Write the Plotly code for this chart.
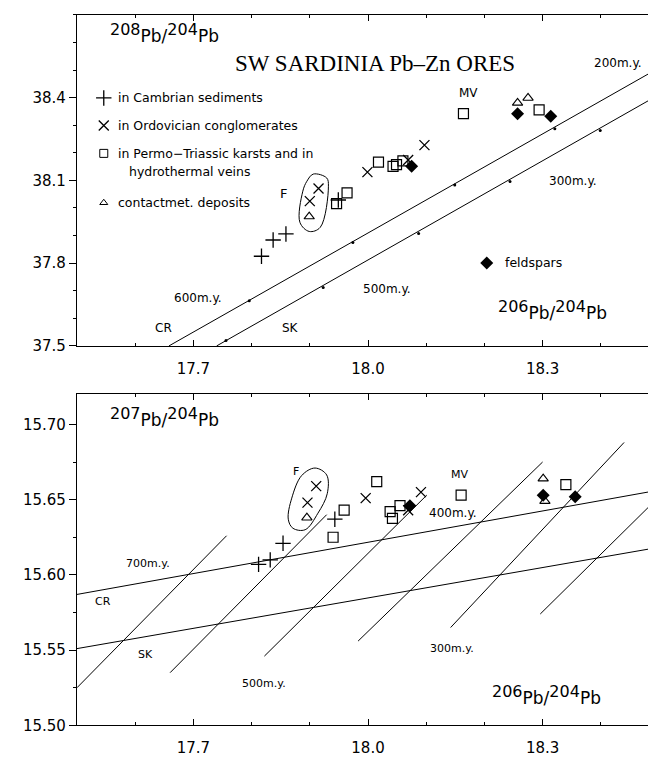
import plotly.graph_objects as go

# ---------------- data ----------------
# upper panel: 208Pb/204Pb vs 206Pb/204Pb
cam_x_top = [17.817, 17.837, 17.859, 17.949]
cam_y_top = [37.825, 37.884, 37.906, 38.029]
ord_x_top = [17.900, 17.915, 17.999, 18.069, 18.097]
ord_y_top = [38.025, 38.071, 38.130, 38.174, 38.228]
pt_x_top = [17.946, 17.964, 18.018, 18.043, 18.049, 18.060, 18.164, 18.294]
pt_y_top = [38.016, 38.055, 38.166, 38.151, 38.157, 38.171, 38.342, 38.356]
cm_x_top = [17.899, 18.257, 18.275]
cm_y_top = [37.969, 38.381, 38.399]
fs_x_top = [18.075, 18.257, 18.314]
fs_y_top = [38.151, 38.342, 38.333]

# growth curves (upper)
cr_x_top = [17.658, 18.495]
cr_y_top = [37.500, 38.502]
sk_x_top = [17.740, 18.495]
sk_y_top = [37.500, 38.405]
cr_dot_x_top = [17.796, 17.974, 18.149, 18.321]
cr_dot_y_top = [37.664, 37.875, 38.083, 38.287]
sk_dot_x_top = [17.756, 17.923, 18.087, 18.244, 18.399]
sk_dot_y_top = [37.520, 37.712, 37.908, 38.096, 38.281]

# F outline (upper)
f_x_top = [17.895, 17.906, 17.929, 17.932, 17.918, 17.899, 17.883, 17.888, 17.895]
f_y_top = [38.097, 38.123, 38.109, 38.079, 37.930, 37.915, 37.948, 38.061, 38.097]

# lower panel: 207Pb/204Pb vs 206Pb/204Pb
cam_x_bot = [17.812, 17.832, 17.854, 17.943]
cam_y_bot = [15.607, 15.610, 15.621, 15.637]
ord_x_bot = [17.896, 17.911, 17.996, 18.069, 18.091]
ord_y_bot = [15.648, 15.659, 15.651, 15.643, 15.655]
pt_x_bot = [17.940, 17.959, 18.015, 18.038, 18.042, 18.055, 18.160, 18.340]
pt_y_bot = [15.625, 15.643, 15.662, 15.642, 15.6375, 15.646, 15.653, 15.660]
cm_x_bot = [17.895, 18.301, 18.304]
cm_y_bot = [15.638, 15.664, 15.649]
fs_x_bot = [18.072, 18.301, 18.356]
fs_y_bot = [15.646, 15.653, 15.652]

cr_x_bot = [17.5, 18.495]
cr_y_bot = [15.587, 15.656]
sk_x_bot = [17.5, 18.495]
sk_y_bot = [15.551, 15.618]

# isochrons (start / end points)
iso_x0 = [17.500, 17.660, 17.822, 17.983, 18.142, 18.296]
iso_y0 = [15.525, 15.535, 15.546, 15.556, 15.565, 15.574]
iso_x1 = [17.757, 17.929, 18.101, 18.300, 18.440, 18.495]
iso_y1 = [15.626, 15.640, 15.653, 15.675, 15.688, 15.650]

f_x_bot = [17.886, 17.909, 17.929, 17.930, 17.914, 17.892, 17.871, 17.863, 17.869, 17.886]
f_y_bot = [15.666, 15.671, 15.6664, 15.654, 15.641, 15.630, 15.631, 15.637, 15.651, 15.666]

x_ticks = [17.7, 18.0, 18.3]
y_ticks_top = [37.5, 37.8, 38.1, 38.4]
y_ticks_bot = [15.50, 15.55, 15.60, 15.65, 15.70]

legend_labels = ["in Cambrian sediments", "in Ordovician conglomerates",
                 "in Permo\u2212Triassic karsts and in", "hydrothermal veins",
                 "contactmet. deposits"]

# ---------------- figure ----------------
# the page body has an 8px margin; the figure is sized/placed to compensate
OFF = 8
W, H = 656 - OFF, 761 - OFF
FONT = "DejaVu Sans"
fig = go.Figure()

sym = dict(
    cam=dict(symbol="cross-thin", size=11, color="black", line=dict(width=1.3, color="black")),
    ord=dict(symbol="x-thin", size=10, color="black", line=dict(width=1.3, color="black")),
    pt=dict(symbol="square-open", size=10, color="black", line=dict(width=1.2, color="black")),
    cm=dict(symbol="triangle-up-open", size=9, color="black", line=dict(width=1.1, color="black")),
    fs=dict(symbol="diamond", size=10, color="black", line=dict(width=0, color="black")),
)

def add_points(x, y, key, xa, ya):
    fig.add_trace(go.Scatter(x=x, y=y, mode="markers", marker=sym[key],
                             xaxis=xa, yaxis=ya, showlegend=False, hoverinfo="skip"))

def add_line(x, y, xa, ya, shape="linear", width=1):
    fig.add_trace(go.Scatter(x=x, y=y, mode="lines", line=dict(color="black", width=width, shape=shape),
                             xaxis=xa, yaxis=ya, showlegend=False, hoverinfo="skip"))

# upper panel
add_line(cr_x_top, cr_y_top, "x", "y")
add_line(sk_x_top, sk_y_top, "x", "y")
fig.add_trace(go.Scatter(x=cr_dot_x_top + sk_dot_x_top, y=cr_dot_y_top + sk_dot_y_top, mode="markers",
                         marker=dict(size=3, color="black"), xaxis="x", yaxis="y",
                         showlegend=False, hoverinfo="skip"))
add_line(f_x_top, f_y_top, "x", "y", shape="spline")
add_points(cam_x_top, cam_y_top, "cam", "x", "y")
add_points(ord_x_top, ord_y_top, "ord", "x", "y")
add_points(pt_x_top, pt_y_top, "pt", "x", "y")
add_points(cm_x_top, cm_y_top, "cm", "x", "y")
add_points(fs_x_top, fs_y_top, "fs", "x", "y")

# legend symbols (upper panel)
leg_y = [38.399, 38.299, 38.198, 38.134, 38.019]
leg_sym_x = 17.546
add_points([leg_sym_x], [leg_y[0]], "cam", "x", "y")
add_points([leg_sym_x], [leg_y[1]], "ord", "x", "y")
fig.add_trace(go.Scatter(x=[leg_sym_x], y=[leg_y[2]], mode="markers",
                         marker=dict(symbol="square-open", size=8, color="black", line=dict(width=1)),
                         xaxis="x", yaxis="y", showlegend=False, hoverinfo="skip"))
fig.add_trace(go.Scatter(x=[leg_sym_x], y=[leg_y[4]], mode="markers",
                         marker=dict(symbol="triangle-up-open", size=7, color="black", line=dict(width=1)),
                         xaxis="x", yaxis="y", showlegend=False, hoverinfo="skip"))
add_points([18.204], [37.801], "fs", "x", "y")

# lower panel
add_line(cr_x_bot, cr_y_bot, "x2", "y2")
add_line(sk_x_bot, sk_y_bot, "x2", "y2")
for a, b, c, d in zip(iso_x0, iso_y0, iso_x1, iso_y1):
    add_line([a, c], [b, d], "x2", "y2")
add_line(f_x_bot, f_y_bot, "x2", "y2", shape="spline")
add_points(cam_x_bot, cam_y_bot, "cam", "x2", "y2")
add_points(ord_x_bot, ord_y_bot, "ord", "x2", "y2")
add_points(pt_x_bot, pt_y_bot, "pt", "x2", "y2")
add_points(cm_x_bot, cm_y_bot, "cm", "x2", "y2")
add_points(fs_x_bot, fs_y_bot, "fs", "x2", "y2")

# invisible traces so the right-edge tick axes are drawn
fig.add_trace(go.Scatter(x=[17.6], y=[38.0], mode="markers", marker=dict(opacity=0),
                         xaxis="x", yaxis="y3", showlegend=False, hoverinfo="skip"))
fig.add_trace(go.Scatter(x=[17.6], y=[15.6], mode="markers", marker=dict(opacity=0),
                         xaxis="x2", yaxis="y4", showlegend=False, hoverinfo="skip"))

# ---------------- annotations ----------------
ann = []
def txt(x, y, s, xr="x", yr="y", size=12, anchor="center", family=FONT):
    ann.append(dict(x=x, y=y, xref=xr, yref=yr, text=s, showarrow=False, xanchor=anchor,
                    yanchor="middle", font=dict(family=family, size=size, color="black")))

def ratio_lbl(a):
    num = "<sup><span style='font-size:16px'>%s</span></sup>"
    return (num % a) + "Pb/" + (num % "204") + "Pb"

txt(17.553, 38.635, ratio_lbl("208"), size=17, anchor="left")
txt(18.012, 38.524, "SW SARDINIA Pb\u2013Zn ORES", size=23, family="Liberation Serif")
leg_text_x = [17.567, 17.567, 17.567, 17.586, 17.567]
for lx, ly, s in zip(leg_text_x, leg_y, legend_labels):
    txt(lx, ly, s, size=12.5, anchor="left")
txt(18.232, 37.801, "feldspars", size=12.5, anchor="left")
txt(18.172, 38.417, "MV", size=12)
txt(17.855, 38.052, "F", size=13)
txt(17.708, 37.672, "600m.y.", size=12)
txt(18.033, 37.708, "500m.y.", size=12)
txt(18.352, 38.098, "300m.y.", size=12)
txt(18.430, 38.524, "200m.y.", size=12)
txt(17.648, 37.565, "CR", size=12)
txt(17.866, 37.565, "SK", size=12)
txt(18.317, 37.631, ratio_lbl("206"), size=17)

txt(17.553, 15.7046, ratio_lbl("207"), "x2", "y2", size=17, anchor="left")
txt(17.877, 15.669, "F", "x2", "y2", size=11)
txt(18.157, 15.6666, "MV", "x2", "y2", size=11)
txt(18.146, 15.6414, "400m.y.", "x2", "y2", size=12)
txt(17.622, 15.6074, "700m.y.", "x2", "y2", size=11)
txt(17.545, 15.582, "CR", "x2", "y2", size=11)
txt(17.617, 15.547, "SK", "x2", "y2", size=11)
txt(17.822, 15.528, "500m.y.", "x2", "y2", size=11)
txt(18.145, 15.551, "300m.y.", "x2", "y2", size=11)
txt(18.306, 15.520, ratio_lbl("206"), "x2", "y2", size=17)

# ---------------- axes ----------------
x0 = (77 - OFF) / W
dom_top = [1 - (350 - OFF) / H, 1 - (15 - OFF) / H]
dom_bot = [1 - (734 - OFF) / H, 1 - (399 - OFF) / H]
xr = [17.5, 17.5 + 579 / 582]
yr_top = [37.5, 38.7]
yr_bot = [15.50, 15.72]

def xaxis(anchor):
    return dict(domain=[x0, 1], range=xr, anchor=anchor, tickvals=x_ticks, tickformat=".1f",
                ticks="inside", ticklen=6, tickwidth=1, tickcolor="black", ticklabelstandoff=9,
                minor=dict(dtick=0.1, tick0=17.5, ticks="inside", ticklen=3, tickcolor="black"),
                showline=True, linecolor="black", linewidth=1.3, mirror="ticks",
                showgrid=False, zeroline=False,
                tickfont=dict(family=FONT, size=15, color="black"))

def yaxis(anchor, dom, rng, vals, fmt, minor):
    return dict(domain=dom, range=rng, anchor=anchor, tickvals=vals, tickformat=fmt,
                ticks="outside", ticklen=7, tickwidth=1, tickcolor="black",
                minor=dict(dtick=minor, ticks="outside", ticklen=3, tickcolor="black"),
                showline=True, linecolor="black", linewidth=1.3,
                showgrid=False, zeroline=False,
                tickfont=dict(family=FONT, size=15, color="black"))

def yaxis_right(over, rng, vals):
    return dict(overlaying=over, side="right", anchor="free", position=1.0, range=rng,
                tickvals=vals, ticks="inside", ticklen=8, tickcolor="black", tickwidth=1,
                showticklabels=False, showline=False, showgrid=False, zeroline=False)

fig.update_layout(
    width=W, height=H, margin=dict(l=0, r=0, t=0, b=0),
    paper_bgcolor="white", plot_bgcolor="white", showlegend=False,
    xaxis=xaxis("y"),
    yaxis=yaxis("x", dom_top, yr_top, y_ticks_top, ".1f", 0.1),
    xaxis2=xaxis("y2"),
    yaxis2=yaxis("x2", dom_bot, yr_bot, y_ticks_bot, ".2f", 0.025),
    yaxis3=yaxis_right("y", yr_top, y_ticks_top),
    yaxis4=yaxis_right("y2", yr_bot, y_ticks_bot),
    annotations=ann,
)

fig.write_html("out.html")
